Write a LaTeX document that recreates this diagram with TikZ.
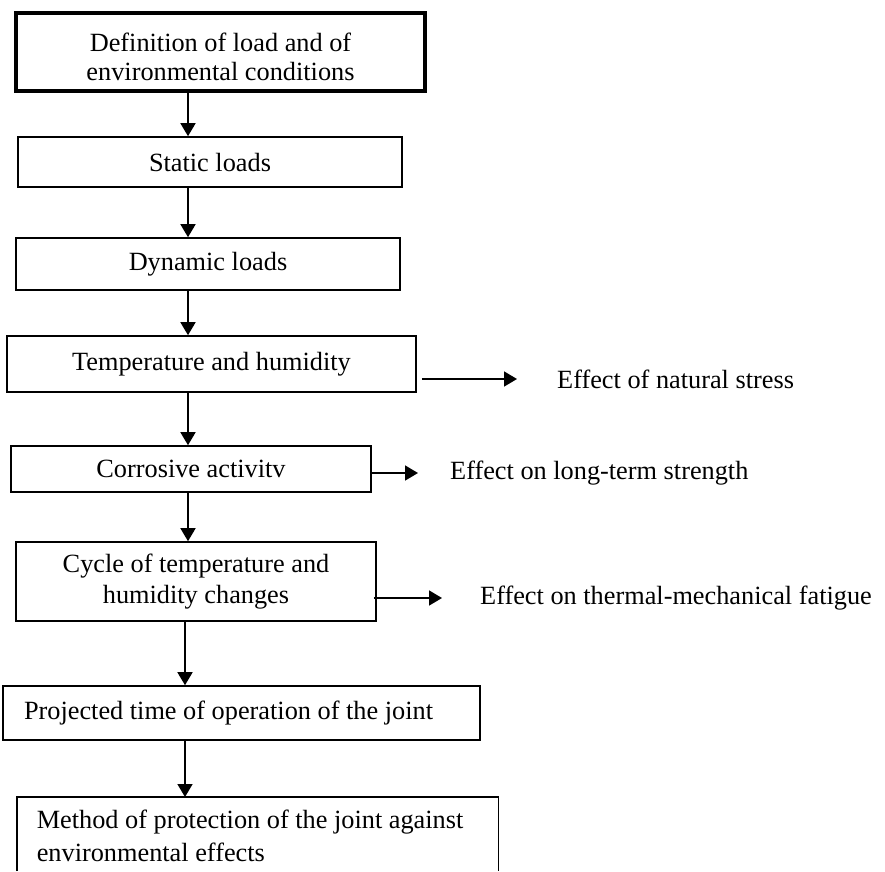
\documentclass[tikz,border=0pt]{standalone}
\usepackage{fontspec}
\setmainfont{Liberation Serif}
\usepackage{tikz}
\usetikzlibrary{arrows.meta}
\tikzset{
    % Box styles with sharp corners
    stage/.style={
        rectangle,
        draw=black,
        line width=1.6pt,
        align=center,
        inner sep=0pt,
        font=\fontsize{26.3}{29}\selectfont
    },
    stage bold/.style={
        stage,
        line width=4pt
    },
    effect label/.style={
        inner sep=0pt,
        anchor=west,
        font=\fontsize{26.3}{29}\selectfont
    },
    arrow style/.style={
        -{Triangle[length=13pt,width=15pt]},
        line width=1.6pt,
        black
    }
}

\begin{document}
\begin{tikzpicture}[x=1pt, y=-1pt]
        % Page frame
        \useasboundingbox (0,0) rectangle (885,871);
        \coordinate (cut) at (0,871);
        \coordinate (upper) at (188,0);
        \coordinate (lower) at (185,0);

        % Chain of stages
        \node[stage bold, minimum width=409pt, minimum height=78pt] (def) at (220.5,52) {\rule{0pt}{29pt}Definition of load and of\\environmental conditions};
        \node[stage, minimum width=384pt, minimum height=50pt] (static) at (210,162) {Static loads};
        \node[stage, minimum width=384pt, minimum height=52pt] (dynamic) at (208,264) {Dynamic loads};
        \node[stage, minimum width=409pt, minimum height=56pt] (temp) at (211.5,364) {Temperature and humidity};
        \node[stage, minimum width=360pt, minimum height=46pt] (corr) at (191,469) {Corrosive activitv};
        \node[stage, minimum width=360pt, minimum height=79pt, font=\fontsize{26.3}{31}\selectfont] (cycle) at (196,581.5) {Cycle of temperature and\\humidity changes};
        \node[stage, minimum width=477pt, minimum height=54pt, text width=435pt, align=flush left, inner xsep=21pt] (proj) at (241.5,713) {Projected time of operation of the joint};

        % Last stage, open at the page edge
        \node[stage, draw=none, anchor=north west, text width=442pt, align=flush left, inner xsep=19pt, inner ysep=12pt, font=\fontsize{26.3}{33}\selectfont] (method) at (17,797) {Method of protection of the joint against\\environmental effects};
        \draw[line width=1.6pt] (method.north west |- cut) -- (method.north west) -- (method.north east) -- (method.north east |- cut);

        % Vertical flow
        \foreach \a/\b/\c in {def/static/upper, static/dynamic/upper, dynamic/temp/upper, temp/corr/upper, corr/cycle/upper, cycle/proj/lower, proj/method/lower}
            \draw[arrow style] (\a.south -| \c) -- (\b.north -| \c);

        % Effects
        \node[effect label] (natural) at (557,379) {Effect of natural stress};
        \node[effect label] (longterm) at (450,473) {Effect on long-term strength};
        \node[effect label] (fatigue) at (480,598) {Effect on thermal-mechanical fatigue};

        \draw[arrow style, shorten <=5pt, shorten >=40pt] (natural.west -| temp.east) -- (natural.west);
        \draw[arrow style, shorten >=32pt] (longterm.west -| corr.east) -- (longterm.west);
        \draw[arrow style, shorten <=-3pt, shorten >=38pt] (fatigue.west -| cycle.east) -- (fatigue.west);
    \end{tikzpicture}
\end{document}
